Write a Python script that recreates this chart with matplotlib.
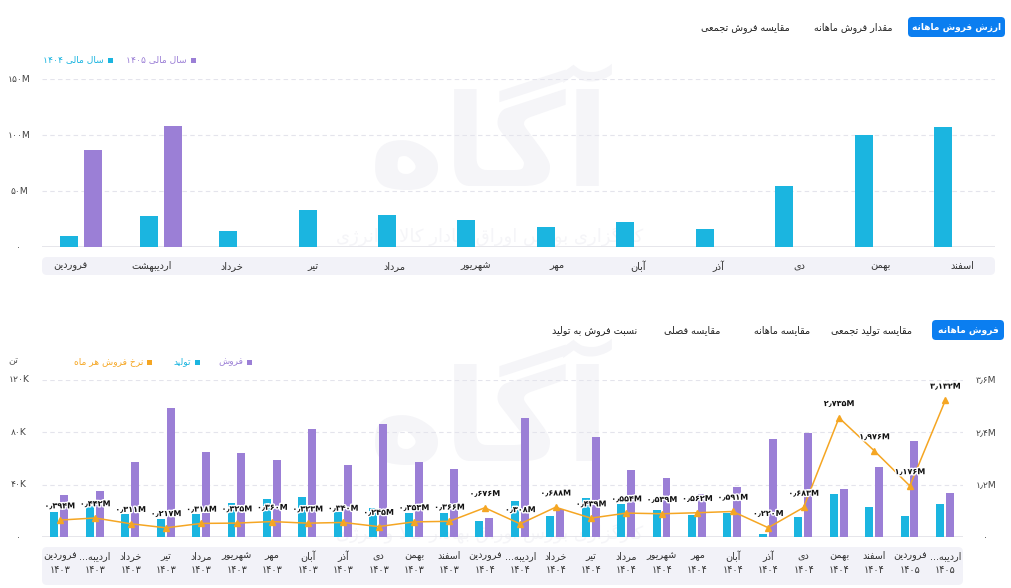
import numpy as np
import matplotlib
matplotlib.use("Agg")
import matplotlib.pyplot as plt
from matplotlib.patches import FancyBboxPatch, Rectangle
import matplotlib.patheffects as pe
from matplotlib import font_manager
from matplotlib.ft2font import FT2Font

# ---------------- data ----------------
top_months = ['فروردین', 'اردیبهشت', 'خرداد', 'تیر', 'مرداد', 'شهریور',
              'مهر', 'آبان', 'آذر', 'دی', 'بهمن', 'اسفند']
fy1404_value = [9.8, 27.7, 14.8, 33.3, 28.6, 24.1, 18.4, 22.6, 16.1, 54.7, 100.3, 106.8]   # M
fy1405_value = [86.9, 107.7, np.nan, np.nan, np.nan, np.nan, np.nan, np.nan, np.nan, np.nan, np.nan, np.nan]
top_yticks = [0, 50, 100, 150]
top_ytick_labels = ['۰', '۵۰M', '۱۰۰M', '۱۵۰M']

bottom_months = ['فروردین', 'اردیبه...', 'خرداد', 'تیر', 'مرداد', 'شهریور', 'مهر', 'آبان', 'آذر', 'دی', 'بهمن', 'اسفند',
                 'فروردین', 'اردیبه...', 'خرداد', 'تیر', 'مرداد', 'شهریور', 'مهر', 'آبان', 'آذر', 'دی', 'بهمن', 'اسفند',
                 'فروردین', 'اردیبه...']
bottom_years = ['۱۴۰۳'] * 12 + ['۱۴۰۴'] * 12 + ['۱۴۰۵'] * 2
sales = [31.9, 35.2, 57.1, 98.7, 65.2, 64.0, 58.9, 82.8, 55.1, 86.4, 57.1, 52.3,
         14.5, 91.3, 21.9, 76.7, 51.5, 44.9, 33.4, 38.0, 75.2, 79.8, 36.5, 53.5,
         73.4, 33.9]   # K ton
production = [19.1, 23.7, 18.1, 14.3, 18.0, 26.2, 29.3, 30.4, 19.4, 22.4, 18.9, 18.9,
              12.2, 27.8, 16.1, 30.1, 25.2, 21.2, 17.3, 18.6, 2.5, 15.5, 33.1, 22.9,
              16.1, 25.2]  # K ton
rate = [0.394, 0.442, 0.311, 0.217, 0.318, 0.325, 0.360, 0.323, 0.340, 0.245, 0.353, 0.366,
        0.676, 0.308, 0.688, 0.439, 0.554, 0.539, 0.562, 0.591, 0.220, 0.683, 2.735, 1.976,
        1.176, 3.132]  # M
left_yticks = [0, 40, 80, 120]
left_ytick_labels = ['۰', '۴۰K', '۸۰K', '۱۲۰K']
right_yticks = [0, 1.2, 2.4, 3.6]
right_ytick_labels = ['۰', '۱٫۲M', '۲٫۴M', '۳٫۶M']

top_tabs = ['ارزش فروش ماهانه', 'مقدار فروش ماهانه', 'مقایسه فروش تجمعی']
bottom_tabs = ['فروش ماهانه', 'مقایسه تولید تجمعی', 'مقایسه ماهانه', 'مقایسه فصلی', 'نسبت فروش به تولید']

# ---------------- colours ----------------
CYAN = '#1BB5E0'
PURPLE = '#9B7FD6'
ORANGE = '#F5A623'
BLUE = '#0B7EF0'
STRIP = '#F2F2F8'
GRID = '#E4E4EC'
TXT = '#333333'
WM = '#F5F5F8'

# ---------------- Persian shaping ----------------
FONT_PATH = font_manager.findfont('DejaVu Sans')
CMAP = FT2Font(FONT_PATH).get_charmap()

def r4(a):
    return (a, a + 1, a + 2, a + 3)

FORMS = {
    '\u0627': (0xFE8D, 0xFE8E), '\u0622': (0xFE81, 0xFE82), '\u062F': (0xFEA9, 0xFEAA),
    '\u0630': (0xFEAB, 0xFEAC), '\u0631': (0xFEAD, 0xFEAE), '\u0632': (0xFEAF, 0xFEB0),
    '\u0698': (0xFB8A, 0xFB8B), '\u0648': (0xFEED, 0xFEEE),
    '\u0628': r4(0xFE8F), '\u067E': r4(0xFB56), '\u062A': r4(0xFE95), '\u062B': r4(0xFE99),
    '\u062C': r4(0xFE9D), '\u0686': r4(0xFB7A), '\u062D': r4(0xFEA1), '\u062E': r4(0xFEA5),
    '\u0633': r4(0xFEB1), '\u0634': r4(0xFEB5), '\u0635': r4(0xFEB9), '\u0636': r4(0xFEBD),
    '\u0637': r4(0xFEC1), '\u0638': r4(0xFEC5), '\u0639': r4(0xFEC9), '\u063A': r4(0xFECD),
    '\u0641': r4(0xFED1), '\u0642': r4(0xFED5), '\u06A9': r4(0xFB8E), '\u06AF': r4(0xFB92),
    '\u0644': r4(0xFEDD), '\u0645': r4(0xFEE1), '\u0646': r4(0xFEE5), '\u0647': r4(0xFEE9),
    '\u06CC': r4(0xFBFC), '\u0626': r4(0xFE89),
}

def dual(c):
    return c in FORMS and len(FORMS[c]) == 4

def joins(c):
    return c in FORMS

def pick(cp, base):
    return chr(cp) if cp in CMAP else base

def shape(s):
    out = []
    i = 0
    n = len(s)
    while i < n:
        c = s[i]
        if c not in FORMS:
            out.append(c)
            i += 1
            continue
        prev = s[i - 1] if i > 0 else ''
        pj = dual(prev)
        if c == '\u0644' and i + 1 < n and s[i + 1] == '\u0627':
            out.append(pick(0xFEFC if pj else 0xFEFB, 'لا'))
            i += 2
            continue
        nxt = s[i + 1] if i + 1 < n else ''
        f = FORMS[c]
        nj = len(f) == 4 and joins(nxt)
        if len(f) == 2:
            cp = f[1] if pj else f[0]
        else:
            if pj and nj:
                cp = f[3]
            elif pj:
                cp = f[1]
            elif nj:
                cp = f[2]
            else:
                cp = f[0]
        out.append(pick(cp, c))
        i += 1
    return ''.join(out)

def is_ltr(c):
    return (c.isascii() and c.isalnum()) or ('\u06F0' <= c <= '\u06F9') or c == '\u066B'

def T(s):
    sh = shape(s)
    runs = []
    for c in sh:
        l = is_ltr(c)
        if runs and runs[-1][0] == l:
            runs[-1][1].append(c)
        else:
            runs.append([l, [c]])
    vis = []
    for l, chars in reversed(runs):
        vis.append(''.join(chars) if l else ''.join(reversed(chars)))
    return ''.join(vis)

def fa_num(v, fmt):
    s = format(v, fmt)
    return s.translate(str.maketrans('0123456789.', '۰۱۲۳۴۵۶۷۸۹٫'))

plt.rcParams['font.family'] = ['DejaVu Sans']

W, H = 1012, 588
fig = plt.figure(figsize=(W / 100, H / 100), dpi=100)
fig.patch.set_facecolor('white')

def rect(x0, y0, x1, y1):
    return [x0 / W, 1 - y1 / H, (x1 - x0) / W, (y1 - y0) / H]

bg = fig.add_axes([0, 0, 1, 1], zorder=0)
bg.set_xlim(0, W)
bg.set_ylim(H, 0)
bg.axis('off')

# watermarks
for cy, sy in [(150, 236), (425, 533)]:
    bg.text(490, cy, T('آگاه'), fontsize=92, fontweight='bold', color=WM,
            ha='center', va='center', zorder=0)
    bg.text(490, sy, T('کارگزاری بورس اوراق بهادار کالا و انرژی'), fontsize=13,
            color=WM, ha='center', va='center', zorder=0)

TAB_FS = 6.9

# top tabs
bg.add_patch(FancyBboxPatch((908, 17), 97, 20, boxstyle='round,pad=0,rounding_size=4',
                            fc=BLUE, ec='none', zorder=2))
bg.text(956.5, 27.5, T(top_tabs[0]), fontsize=6.5, color='white', ha='center', va='center',
        fontweight='bold', zorder=3)
bg.text(853, 27.5, T(top_tabs[1]), fontsize=TAB_FS, color='#222222', ha='center', va='center', zorder=3)
bg.text(745, 27.5, T(top_tabs[2]), fontsize=TAB_FS, color='#222222', ha='center', va='center', zorder=3)

# bottom tabs
bg.add_patch(FancyBboxPatch((932, 320), 72, 20, boxstyle='round,pad=0,rounding_size=4',
                            fc=BLUE, ec='none', zorder=2))
bg.text(968, 330.5, T(bottom_tabs[0]), fontsize=6.6, color='white', ha='center', va='center',
        fontweight='bold', zorder=3)
for t, xc in zip(bottom_tabs[1:], [872, 782, 692, 595]):
    bg.text(xc, 330.5, T(t), fontsize=TAB_FS, color='#222222', ha='center', va='center', zorder=3)

# legends
def legend_item(xr, y, label, color):
    bg.add_patch(Rectangle((xr - 5, y - 2.5), 5, 5, fc=color, ec='none', zorder=3))
    bg.text(xr - 9, y, T(label), fontsize=6.6, color=color, ha='right', va='center', zorder=3)

legend_item(196, 60, 'سال مالی ۱۴۰۵', PURPLE)
legend_item(113, 60, 'سال مالی ۱۴۰۴', CYAN)
legend_item(252, 362, 'فروش', PURPLE)
legend_item(200, 362, 'تولید', CYAN)
legend_item(152, 362, 'نرخ فروش هر ماه', ORANGE)
bg.text(13, 361, T('تن'), fontsize=6.8, color='#555555', ha='center', va='center')

# ---------------- top chart ----------------
L1, R1, T1, B1 = 42, 995, 79, 247.3
ax1 = fig.add_axes(rect(L1, T1, R1, B1), zorder=1)
ax1.patch.set_visible(False)
x1 = np.arange(len(top_months))
bw = 0.227
ax1.bar(x1 - 0.155, fy1404_value, width=bw, color=CYAN, zorder=3)
ax1.bar(x1 + 0.145, fy1405_value, width=bw, color=PURPLE, zorder=3)
ax1.set_xlim(-0.5, len(top_months) - 0.5)
ax1.set_ylim(0, 150)
for v in top_yticks[1:]:
    ax1.axhline(v, color=GRID, lw=0.8, ls=(0, (4, 3)), zorder=1)
ax1.axhline(0, color='#E2E2E8', lw=1.2, zorder=2)
for s in ax1.spines.values():
    s.set_visible(False)
ax1.set_xticks([])
ax1.set_yticks([])
for v, lab in zip(top_yticks, top_ytick_labels):
    y = B1 - (B1 - T1) * v / 150
    bg.text(19, y, lab, fontsize=6.6, color='#444444', ha='center', va='center')

# top month strip
bg.add_patch(FancyBboxPatch((L1, 257), R1 - L1, 18, boxstyle='round,pad=0,rounding_size=5',
                            fc=STRIP, ec='none', zorder=1))
label_x = np.linspace(70, 962, len(top_months))
for xc, m in zip(label_x, top_months):
    bg.text(xc, 266, T(m), fontsize=7.0, color=TXT, ha='center', va='center', zorder=3)

# ---------------- bottom chart ----------------
L2, R2, T2, B2 = 42, 963, 380, 537.3
ax2 = fig.add_axes(rect(L2, T2, R2, B2), zorder=1)
ax2.patch.set_visible(False)
x2 = np.arange(len(bottom_months))
bw2 = 0.225
ax2.bar(x2 - 0.15, production, width=bw2, color=CYAN, zorder=3)
ax2.bar(x2 + 0.13, sales, width=bw2, color=PURPLE, zorder=3)
ax2.set_xlim(-0.5, len(bottom_months) - 0.5)
ax2.set_ylim(0, 120)
for v in left_yticks[1:]:
    ax2.axhline(v, color=GRID, lw=0.8, ls=(0, (4, 3)), zorder=1)
ax2.axhline(0, color='#E2E2E8', lw=1.2, zorder=2)
for s in ax2.spines.values():
    s.set_visible(False)
ax2.set_xticks([])
ax2.set_yticks([])

ax3 = ax2.twinx()
ax3.set_zorder(2)
ax3.patch.set_visible(False)
ax3.set_ylim(0, 3.6)
ax3.plot(x2, rate, color=ORANGE, lw=1.1, marker='^', ms=5, mfc=ORANGE, mec=ORANGE, zorder=4)
for xi, v in zip(x2, rate):
    ax3.annotate(fa_num(v, '.3f') + 'M', (xi, v), xytext=(0, 7), textcoords='offset points',
                 ha='center', va='bottom', fontsize=5.8, fontweight='bold', color='#111111',
                 path_effects=[pe.withStroke(linewidth=2.0, foreground='white')], zorder=5)
for s in ax3.spines.values():
    s.set_visible(False)
ax3.set_xticks([])
ax3.set_yticks([])

for v, lab in zip(left_yticks, left_ytick_labels):
    y = B2 - (B2 - T2) * v / 120
    bg.text(19, y, lab, fontsize=6.6, color='#444444', ha='center', va='center')
for v, lab in zip(right_yticks, right_ytick_labels):
    y = B2 - (B2 - T2) * v / 3.6
    bg.text(986, y, lab, fontsize=6.6, color='#444444', ha='center', va='center')

# bottom month strip
bg.add_patch(FancyBboxPatch((L2, 547), R2 - L2, 38, boxstyle='round,pad=0,rounding_size=5',
                            fc=STRIP, ec='none', zorder=1))
cw2 = (R2 - L2) / len(bottom_months)
for i, (m, yv) in enumerate(zip(bottom_months, bottom_years)):
    xc = L2 + cw2 * (i + 0.5)
    bg.text(xc, 556, T(m), fontsize=6.9, color=TXT, ha='center', va='center', zorder=3)
    bg.text(xc, 570, yv, fontsize=6.9, color=TXT, ha='center', va='center', zorder=3)

fig.savefig('out.png', dpi=100, facecolor='white')
